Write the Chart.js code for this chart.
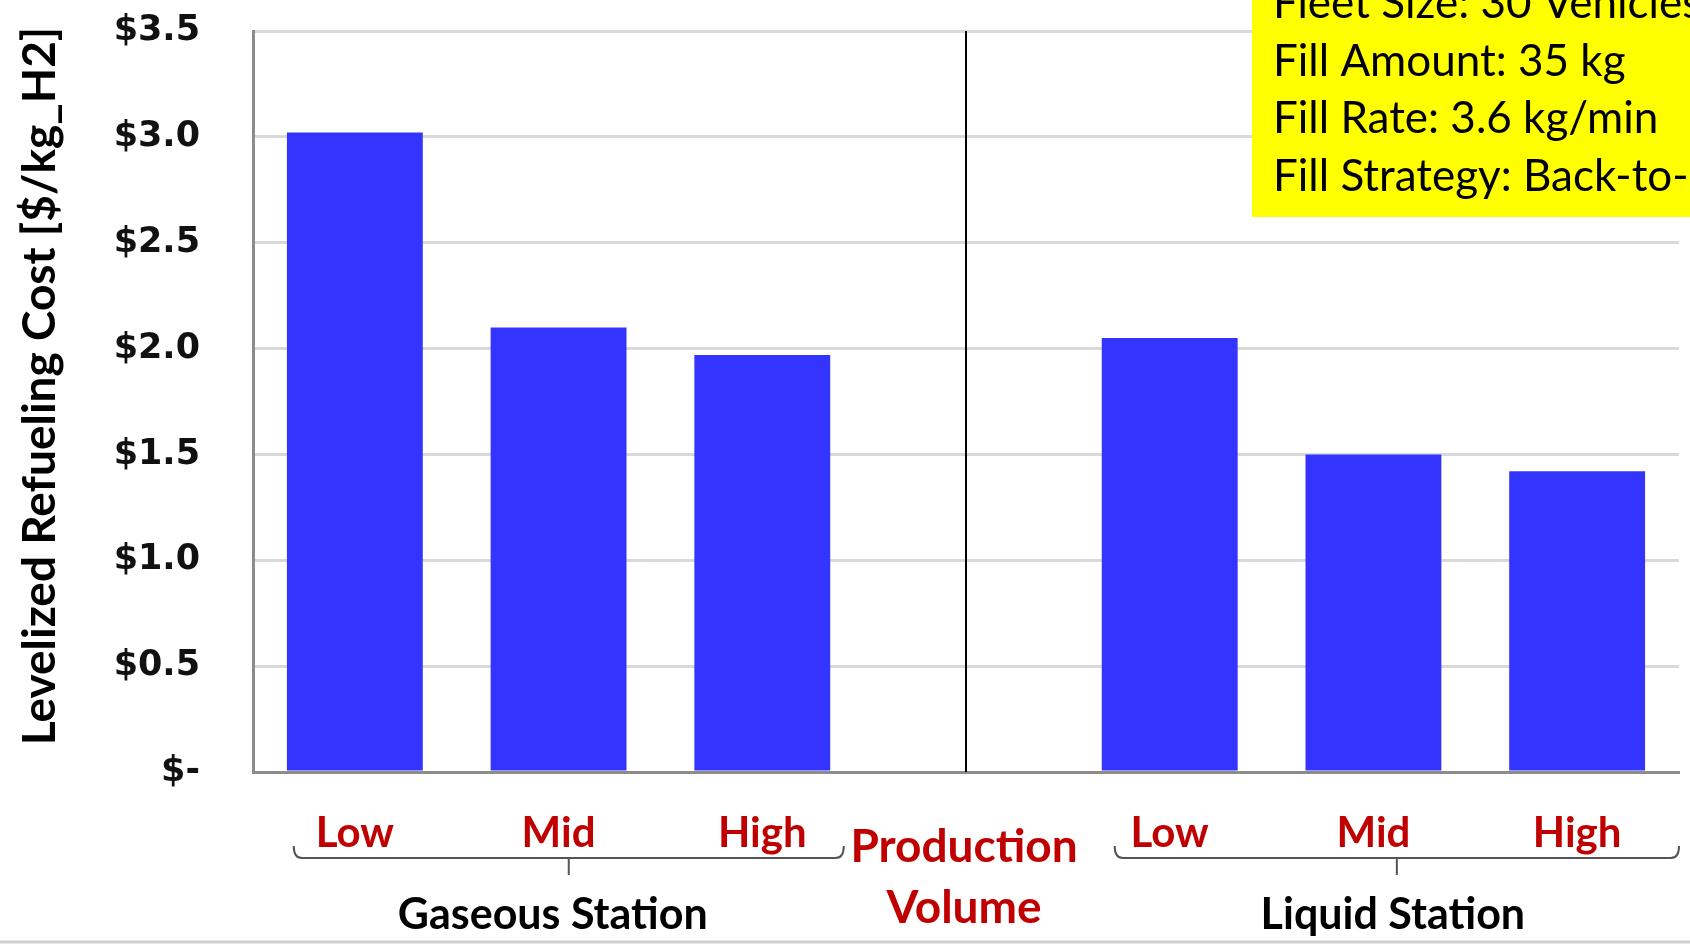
<!DOCTYPE html>
<html lang="en">
<head>
  <meta charset="UTF-8"/>
  <title>Levelized Refueling Cost</title>
  <script src="https://cdn.jsdelivr.net/npm/chart.js"></script>
  <style>
    html, body { margin: 0; padding: 0; background: #fff; }
    .chart-box { width: 1690px; height: 944px; }
  </style>
</head>
<body>
<div class="chart-box"><canvas id="costChart" width="1690" height="944"></canvas></div>

<script>
  const categories = ['Low', 'Mid', 'High', '', 'Low', 'Mid', 'High'];
  const gaseousCost = [3.02, 2.10, 1.97];
  const liquidCost = [2.05, 1.50, 1.42];
  const yTicks = [0, 0.5, 1.0, 1.5, 2.0, 2.5, 3.0, 3.5];
  const groupNames = ['Gaseous Station', 'Liquid Station'];
  const dividerLabel = ['Production', 'Volume'];
  const infoLines = ['Fleet Size: 30 Vehicles', 'Fill Amount: 35 kg', 'Fill Rate: 3.6 kg/min', 'Fill Strategy: Back-to-Back'];
  const yTitle = 'Levelized Refueling Cost [$/kg_H2]';

  const costValues = [...gaseousCost, null, ...liquidCost];

  // labels under the axis, brackets, divider, info box, axis title
  const annotations = {
    id: 'annotations',
    afterDraw(chart) {
      const { ctx, scales: { x, y } } = chart;
      const step = x.getPixelForValue(1) - x.getPixelForValue(0);
      ctx.save();

      // divider between the two stations
      const midX = x.getPixelForValue(3);
      ctx.strokeStyle = '#000';
      ctx.lineWidth = 2;
      ctx.beginPath();
      ctx.moveTo(midX, y.getPixelForValue(3.5));
      ctx.lineTo(midX, y.getPixelForValue(0));
      ctx.stroke();

      // red category labels
      ctx.fillStyle = '#c00000';
      ctx.font = 'bold 42px Lato';
      ctx.textAlign = 'center';
      ctx.textBaseline = 'alphabetic';
      categories.forEach((c, i) => {
        if (c) ctx.fillText(c, x.getPixelForValue(i), 847);
      });
      ctx.font = 'bold 46px Lato';
      ctx.fillText(dividerLabel[0], midX - 2, 862);
      ctx.fillText(dividerLabel[1], midX - 2, 923);

      // brackets + group names
      const spans = [
        [x.getPixelForValue(0) - 0.3 * step, x.getPixelForValue(2) + 0.4 * step],
        [x.getPixelForValue(4) - 0.27 * step, x.getPixelForValue(6) + 0.5 * step]
      ];
      const nameShift = [-16, -4];
      ctx.strokeStyle = '#555';
      ctx.lineWidth = 2;
      spans.forEach(([x0, x1], g) => {
        const yb = 858, r = 8;
        const cx = (x0 + x1) / 2;
        ctx.beginPath();
        ctx.moveTo(x0, yb - 12);
        ctx.quadraticCurveTo(x0, yb, x0 + r, yb);
        ctx.lineTo(x1 - r, yb);
        ctx.quadraticCurveTo(x1, yb, x1, yb - 12);
        ctx.moveTo(cx, yb);
        ctx.lineTo(cx, yb + 17);
        ctx.stroke();

        ctx.fillStyle = '#000';
        ctx.font = 'bold 43px Lato';
        ctx.textBaseline = 'alphabetic';
        ctx.fillText(groupNames[g], cx + nameShift[g], 929);
      });

      // info box
      ctx.fillStyle = '#ffff00';
      ctx.fillRect(1252, 0, 438, 217);
      ctx.fillStyle = '#000';
      ctx.font = '44px Lato';
      ctx.textAlign = 'left';
      infoLines.forEach((t, i) => ctx.fillText(t, 1273, 18 + i * 57.5));

      // y axis title
      ctx.translate(40, 386);
      ctx.rotate(-Math.PI / 2);
      ctx.textAlign = 'center';
      ctx.textBaseline = 'middle';
      ctx.font = 'bold 46px Lato';
      ctx.fillStyle = '#000';
      ctx.fillText(yTitle, 0, 0);
      ctx.restore();

      // bottom rule
      ctx.save();
      ctx.strokeStyle = '#d0d0d0';
      ctx.lineWidth = 3;
      ctx.beginPath();
      ctx.moveTo(0, 942);
      ctx.lineTo(1690, 942);
      ctx.stroke();
      ctx.restore();
    }
  };

  new Chart(document.getElementById('costChart'), {
    type: 'bar',
    data: {
      labels: categories,
      datasets: [{
        data: costValues,
        backgroundColor: '#3434ff',
        categoryPercentage: 1,
        barPercentage: 0.667
      }]
    },
    options: {
      responsive: false,
      animation: false,
      devicePixelRatio: 1,
      layout: { padding: { top: 31, right: 11, bottom: 172, left: 0 } },
      plugins: {
        legend: { display: false },
        tooltip: { enabled: false }
      },
      scales: {
        x: {
          ticks: { display: false },
          grid: { display: false },
          border: { color: '#8c8c8c', width: 3 },
          afterFit(scale) { scale.height = 0; }
        },
        y: {
          min: 0,
          max: 3.5,
          afterBuildTicks(scale) { scale.ticks = yTicks.map(v => ({ value: v })); },
          afterFit(scale) {
            scale.width = 253;
            // tick padding would otherwise push the plot top down
            scale.paddingTop = 0;
            scale.paddingBottom = 0;
          },
          ticks: {
            padding: 53,
            color: '#111',
            font: { family: 'DejaVu Sans', weight: 'bold', size: 35 },
            callback: v => v === 0 ? '$-' : '$' + v.toFixed(1)
          },
          grid: { color: '#d9d9d9', lineWidth: 3, drawTicks: false },
          border: { color: '#8c8c8c', width: 3 }
        }
      }
    },
    plugins: [annotations]
  });
</script>
</body>
</html>
